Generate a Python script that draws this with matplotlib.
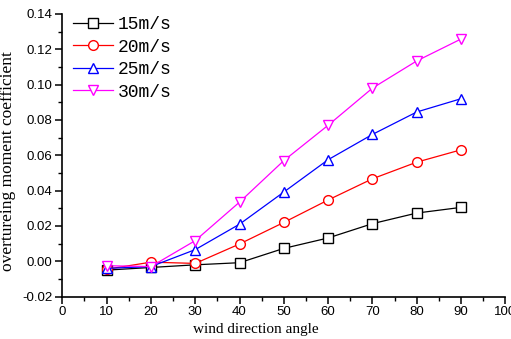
import matplotlib
matplotlib.use("Agg")
import matplotlib.pyplot as plt
from matplotlib.ticker import MultipleLocator

# wind direction angle (deg)
angles = [10, 20, 30, 40, 50, 60, 70, 80, 90]

# overturning moment coefficient per wind speed
v15 = [-0.0050, -0.0035, -0.0020, -0.0008, 0.0073, 0.0132, 0.0213, 0.0273, 0.0305]
v20 = [-0.0045, -0.0005, -0.0012, 0.0098, 0.0220, 0.0347, 0.0467, 0.0561, 0.0631]
v25 = [-0.0040, -0.0030, 0.0066, 0.0210, 0.0392, 0.0575, 0.0718, 0.0845, 0.0920]
v30 = [-0.0025, -0.0030, 0.0117, 0.0335, 0.0570, 0.0770, 0.0980, 0.1134, 0.1258]

series = [
    (v15, "15m/s", "black", "s"),
    (v20, "20m/s", "red", "o"),
    (v25, "25m/s", "blue", "^"),
    (v30, "30m/s", "magenta", "v"),
]

fig = plt.figure(figsize=(5.11, 3.39), dpi=100)
ax = fig.add_axes([0.122, 0.125, 0.867, 0.834])

for vals, lab, col, mk in series:
    ax.plot(angles, vals, color=col, lw=0.9, marker=mk, markersize=7,
            markerfacecolor="white", markeredgecolor=col, markeredgewidth=1.0,
            label=lab)

ax.set_xlim(0, 100)
ax.set_ylim(-0.02, 0.14)
ax.xaxis.set_major_locator(MultipleLocator(10))
ax.xaxis.set_minor_locator(MultipleLocator(5))
ax.yaxis.set_major_locator(MultipleLocator(0.02))
ax.yaxis.set_minor_locator(MultipleLocator(0.01))
ax.yaxis.set_major_formatter(plt.FuncFormatter(lambda v, p: f"{v:.2f}"))

for s in ("top", "right"):
    ax.spines[s].set_visible(False)
for s in ("left", "bottom"):
    ax.spines[s].set_linewidth(1.2)

ax.tick_params(which="major", direction="out", length=5, width=1.1,
               labelsize=9.5, pad=2)
ax.tick_params(which="minor", direction="out", length=3, width=1.0)
for t in ax.get_xticklabels() + ax.get_yticklabels():
    t.set_fontfamily("Liberation Sans")

ax.set_xlabel("wind direction angle", family="Liberation Serif", fontsize=11)
ax.xaxis.set_label_coords(0.436, -0.093, transform=ax.transAxes)
ax.xaxis.label.set_va("top")
ax.set_ylabel("overtureing moment coefficient", family="Liberation Serif", fontsize=12.5)
ax.yaxis.set_label_coords(-0.105, 0.48, transform=ax.transAxes)

leg = ax.legend(loc="upper left", frameon=False, prop={"family": "Liberation Mono", "size": 13},
                handlelength=2.2, borderaxespad=0.2, labelspacing=0.3, handletextpad=0.25,
                bbox_to_anchor=(0.0, 1.03))

fig.savefig("out.png", dpi=100)
